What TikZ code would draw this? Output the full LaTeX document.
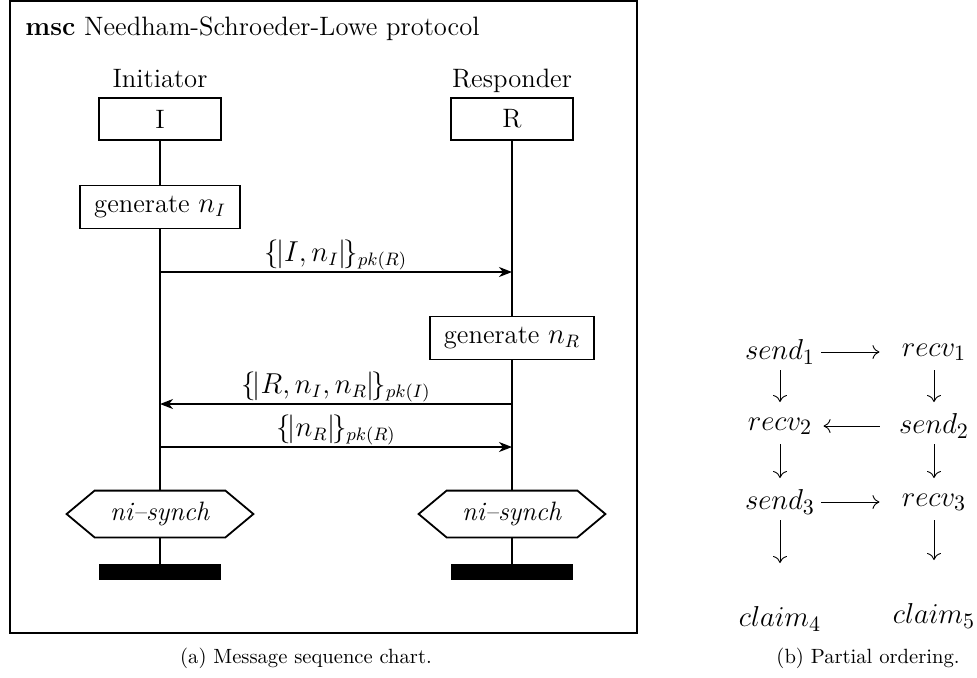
\documentclass[tikz,border=0pt]{standalone}
\usetikzlibrary{arrows.meta}
\begin{document}
\begin{tikzpicture}[x=0.5pt,y=-0.5pt,
  mscfont/.style={font=\fontsize{13.3}{16}\selectfont},
  capfont/.style={font=\fontsize{10.3}{12.5}\selectfont},
  ordfont/.style={font=\fontsize{15.5}{18}\selectfont},
  frame/.style={line width=0.9pt},
  instbox/.style={draw,line width=0.9pt,fill=white,mscfont,inner sep=0pt,
                  minimum width=61pt,minimum height=21pt},
  actbox/.style={draw,line width=0.9pt,fill=white,mscfont,inner ysep=0pt,
                 inner xsep=7pt,minimum height=21.5pt},
  condbox/.style={mscfont,inner sep=0pt,minimum width=65pt,minimum height=23pt},
  stopbar/.style={fill=black,inner sep=0pt,minimum width=61pt,minimum height=8pt},
  lifeline/.style={line width=0.8pt},
  msg/.style={line width=0.8pt,-{Stealth[length=6.5pt,width=5pt,inset=2pt]}},
  msglabel/.style={mscfont,anchor=base,yshift=5.5pt,inner sep=0pt},
  ord/.style={ordfont,inner sep=0pt},
  ordarrow/.style={line width=0.45pt,-{Computer Modern Rightarrow[length=3.5pt,width=7pt]}},
  hright/.style={ordarrow,shorten <=3pt,shorten >=11pt},
  hleft/.style={ordarrow,shorten <=9.5pt,shorten >=5.5pt},
  vdown/.style={ordarrow,shorten <=9pt,shorten >=12pt},
  vlast/.style={ordarrow,shorten <=9pt,shorten >=28pt}
]
\useasboundingbox (0,0) rectangle (977,677);

% ---------- (a) message sequence chart ----------
\draw[frame] (10,1) rectangle (637,633);
\node[mscfont,anchor=base west,inner sep=0pt] (title) at (25,35)
  {\textbf{msc} Needham-Schroeder-Lowe protocol};

\node[mscfont,anchor=base,inner sep=0pt] (iname) at (160,87) {Initiator};
\node[mscfont,anchor=base,inner sep=0pt] (rname) at (512,87) {Responder};

\node[instbox] (I) at (160,119) {I};
\node[instbox] (R) at (512,119) {R};

\node[actbox] (genI) at (160,207) {generate $n_I$};
\node[actbox] (genR) at (512,338) {generate $n_R$};

% condition hexagons drawn around their text nodes
\node[condbox] (hexI) at (160,514) {};
\node[condbox] (hexR) at (512,514) {};
\foreach \h in {hexI,hexR}{
  \draw[line width=0.9pt,fill=white]
    (\h.north west) -- (\h.north east) -- ([xshift=14pt]\h.east)
    -- (\h.south east) -- (\h.south west) -- ([xshift=-14pt]\h.west) -- cycle;
  \node[condbox] at (\h) {\textit{ni--synch}};
}

\node[stopbar] (endI) at (160,572) {};
\node[stopbar] (endR) at (512,572) {};

% lifelines
\draw[lifeline] (I.south) -- (genI.north);
\draw[lifeline] (genI.south) -- (hexI.north);
\draw[lifeline] (hexI.south) -- (endI.north);
\draw[lifeline] (R.south) -- (genR.north);
\draw[lifeline] (genR.south) -- (hexR.north);
\draw[lifeline] (hexR.south) -- (endR.north);

% message end points on the lifelines
\coordinate (m1i) at (160,272);
\coordinate (m1r) at (512,272);
\coordinate (m2i) at (160,404);
\coordinate (m2r) at (512,404);
\coordinate (m3i) at (160,447);
\coordinate (m3r) at (512,447);

\draw[msg] (m1i) -- node[msglabel] {$\{\kern-0.12em|I,n_I|\kern-0.12em\}_{pk(R)}$} (m1r);
\draw[msg] (m2r) -- node[msglabel] {$\{\kern-0.12em|R,n_I,n_R|\kern-0.12em\}_{pk(I)}$} (m2i);
\draw[msg] (m3i) -- node[msglabel] {$\{\kern-0.12em|n_R|\kern-0.12em\}_{pk(R)}$} (m3r);

\node[capfont,anchor=base] (capa) at (306,663) {(a) Message sequence chart.};

% ---------- (b) partial ordering ----------
\node[ord] (s1) at (780,352) {$send_1$};
\node[ord] (r1) at (934,352) {$recv_1$};
\node[ord] (r2) at (780,426) {$recv_2$};
\node[ord] (s2) at (934,426) {$send_2$};
\node[ord] (s3) at (780,502) {$send_3$};
\node[ord] (r3) at (934,502) {$recv_3$};
\node[ord] (c4) at (780,619) {$claim_4$};
\node[ord] (c5) at (934,616) {$claim_5$};

\draw[hright] (s1.east) -- (r1.west);
\draw[hleft]  (s2.west) -- (r2.east);
\draw[hright] (s3.east) -- (r3.west);

\draw[vdown] (s1.center) -- (r2.center);
\draw[vdown] (r1.center) -- (s2.center);
\draw[vdown] (r2.center) -- (s3.center);
\draw[vdown] (s2.center) -- (r3.center);
\draw[vlast] (s3.center) -- (c4.center);
\draw[vlast] (r3.center) -- (c5.center);

\node[capfont,anchor=base] (capb) at (868,663) {(b) Partial ordering.};
\end{tikzpicture}
\end{document}
